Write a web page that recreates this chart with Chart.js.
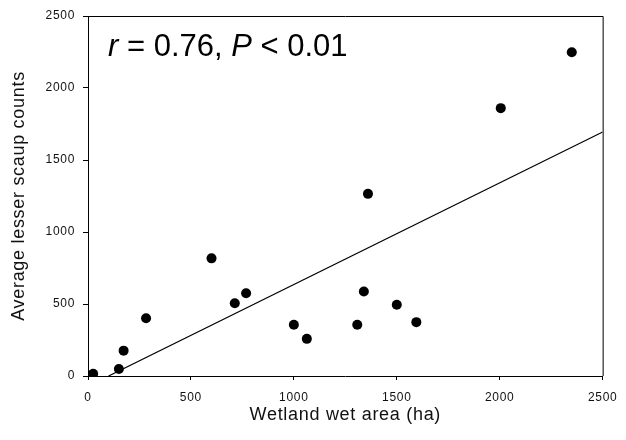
<!DOCTYPE html>
<html>
<head>
<meta charset="utf-8">
<script src="https://cdn.jsdelivr.net/npm/chart.js@4"></script>
<style>
  html, body { margin: 0; padding: 0; background: #ffffff; }
  #wrap { width: 626px; height: 440px; }
</style>
</head>
<body>
<div id="wrap"><canvas id="c" width="626" height="440"></canvas></div>
<script>
// Wetland wet area (ha)
const wetArea = [25, 150, 173, 282, 600, 713, 768, 1000, 1063, 1308, 1340, 1500, 1595, 1360, 2005, 2350];
// Average lesser scaup counts
const scaupCounts = [15, 49, 176, 401, 817, 505, 575, 356, 258, 356, 587, 495, 374, 1265, 1860, 2248];
// Fitted regression line end points
const fitX = [100, 2500];
const fitY = [0, 1695];
// Axis ticks
const xTicks = [0, 500, 1000, 1500, 2000, 2500];
const yTicks = [0, 500, 1000, 1500, 2000, 2500];
const annotationParts = [
  { text: 'r', italic: true },
  { text: ' = 0.76, ', italic: false },
  { text: 'P', italic: true },
  { text: ' < 0.01', italic: false }
];

const FONT = '"Liberation Sans", Arial, Helvetica, sans-serif';

const framePlugin = {
  id: 'frame',
  beforeDraw(chart) {
    chart.ctx.letterSpacing = '0.7px';
  },
  afterDraw(chart) {
    const { ctx, chartArea: a } = chart;
    ctx.save();
    ctx.letterSpacing = '0px';
    ctx.strokeStyle = '#000';
    ctx.lineWidth = 1;
    ctx.beginPath();
    ctx.moveTo(a.left, a.top + 0.5);
    ctx.lineTo(a.right + 0.5, a.top + 0.5);
    ctx.lineTo(a.right + 0.5, a.bottom);
    ctx.stroke();
    // annotation text
    ctx.fillStyle = '#000';
    ctx.textBaseline = 'alphabetic';
    let x = a.left + 20;
    const y = a.top + 40;
    for (const p of annotationParts) {
      ctx.font = (p.italic ? 'italic ' : '') + '31px ' + FONT;
      ctx.fillText(p.text, x, y);
      x += ctx.measureText(p.text).width;
    }
    ctx.restore();
  }
};

new Chart(document.getElementById('c'), {
  type: 'scatter',
  data: {
    datasets: [
      {
        label: 'Counts',
        data: wetArea.map((v, i) => ({ x: v, y: scaupCounts[i] })),
        backgroundColor: '#000',
        borderColor: '#000',
        borderWidth: 0,
        pointRadius: 5,
        pointHoverRadius: 5
      },
      {
        label: 'Fit',
        type: 'line',
        data: fitX.map((v, i) => ({ x: v, y: fitY[i] })),
        borderColor: '#000',
        borderWidth: 1.2,
        pointRadius: 0,
        fill: false,
        tension: 0
      }
    ]
  },
  options: {
    responsive: false,
    animation: false,
    devicePixelRatio: 1,
    layout: { padding: { top: 16, right: 23, left: 0, bottom: 0 } },
    plugins: { legend: { display: false }, tooltip: { enabled: false } },
    scales: {
      x: {
        type: 'linear',
        min: 0, max: 2500,
        afterBuildTicks(s) { s.ticks = xTicks.map(v => ({ value: v })); },
        afterFit(s) { s.height = 64; },
        grid: { drawOnChartArea: false, drawTicks: true, tickLength: 4, color: '#000' },
        border: { display: true, color: '#000', width: 1 },
        ticks: { color: '#111', padding: 10, maxRotation: 0, font: { family: FONT, size: 12 },
                 callback: (v) => String(v) },
        title: { display: true, text: 'Wetland wet area (ha)', color: '#111',
                 font: { family: FONT, size: 18 }, padding: { top: 0, bottom: 14 } }
      },
      y: {
        type: 'linear',
        min: 0, max: 2500,
        afterBuildTicks(s) { s.ticks = yTicks.map(v => ({ value: v })); },
        afterFit(s) { s.width = 88; },
        grid: { drawOnChartArea: false, drawTicks: true, tickLength: 5, color: '#000' },
        border: { display: true, color: '#000', width: 1 },
        ticks: { color: '#111', padding: 8, font: { family: FONT, size: 12 },
                 callback: (v) => String(v) },
        title: { display: true, text: 'Average lesser scaup counts', color: '#111',
                 font: { family: FONT, size: 18 }, padding: { top: 8, bottom: 0 } }
      }
    }
  },
  plugins: [framePlugin]
});
</script>
</body>
</html>
